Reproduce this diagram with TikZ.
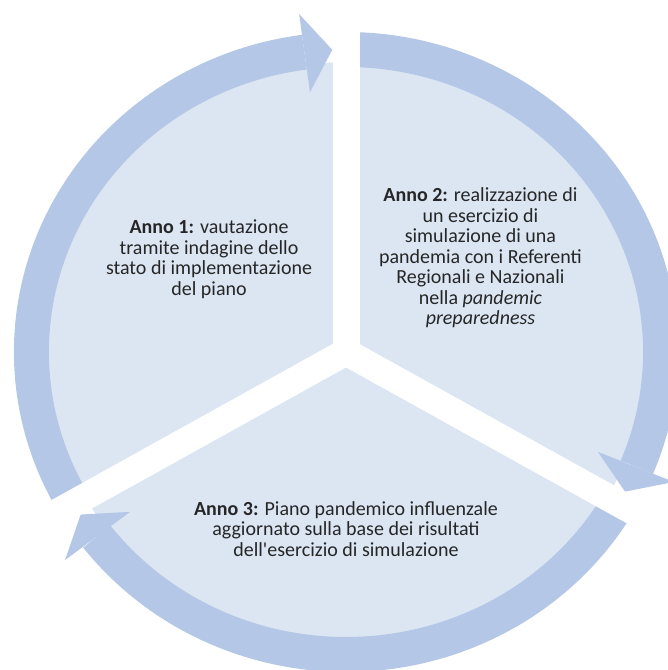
\documentclass[tikz,border=0pt]{standalone}
\usepackage{fontspec}
\setmainfont{Carlito}
\definecolor{ringblue}{RGB}{180,199,231}
\definecolor{pieblue}{RGB}{220,230,242}
\begin{document}
\begin{tikzpicture}[x=0.624pt, y=0.6pt,
    ringarc/.style={draw=ringblue, line width=21pt},
    ringhead/.style={fill=ringblue},
    gapline/.style={draw=white, line width=16.2pt},
    annotext/.style={align=center, font=\fontsize{12}{12.3}\selectfont, text=black!85}]
    \useasboundingbox (-332.7,-318) rectangle (309.6,352);
    \fill[pieblue] (0,0) ellipse [x radius=290, y radius=290];
    \draw[ringarc] (210:302.5) arc[start angle=210, end angle=97.6, radius=302.5];
    \fill[ringhead] (97.6:262) -- (97.6:341) -- (92.5:302.5) -- cycle;
    \draw[ringarc] (90:302.5) arc[start angle=90, end angle=-22.4, radius=302.5];
    \fill[ringhead] (-22.4:262) -- (-22.4:341) -- (-27.5:302.5) -- cycle;
    \draw[ringarc] (-30:302.5) arc[start angle=-30, end angle=-142.4, radius=302.5];
    \fill[ringhead] (-142.4:262) -- (-142.4:341) -- (-147.5:302.5) -- cycle;
    \draw[gapline] (0,0) -- (90:360);
    \draw[gapline] (0,0) -- (210:360);
    \draw[gapline] (0,0) -- (-30:360);
    \node[annotext] (anno1) at (-131.7,93) {\textbf{Anno 1:} vautazione\\tramite indagine dello\\stato di implementazione\\del piano};
    \node[annotext] (anno2) at (129.3,94) {\textbf{Anno 2:} realizzazione di\\un esercizio di\\simulazione di una\\pandemia con i Referenti\\Regionali e Nazionali\\nella \textit{pandemic}\\\textit{preparedness}};
    \node[annotext] (anno3) at (0,-177) {\textbf{Anno 3:} Piano pandemico influenzale\\aggiornato sulla base dei risultati\\dell\textquotesingle esercizio di simulazione};
\end{tikzpicture}
\end{document}
